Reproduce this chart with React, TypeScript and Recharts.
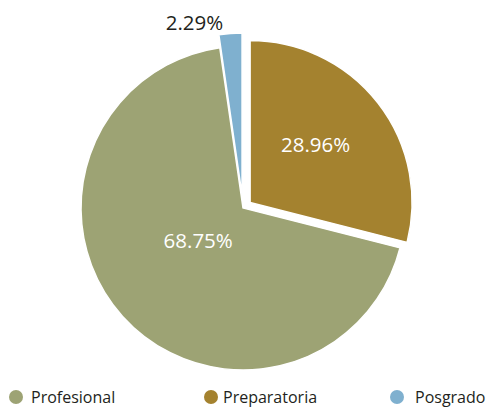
import { PieChart, Pie, Cell, Sector } from 'recharts'

const categories = ['Preparatoria', 'Profesional', 'Posgrado']
const shares = [28.96, 68.75, 2.29]
const legendOrder = ['Profesional', 'Preparatoria', 'Posgrado']

const COLORS: Record<string, string> = {
  Profesional: '#9DA374',
  Preparatoria: '#A4822F',
  Posgrado: '#7FB0CF',
}

// how far each slice is pulled out of the center
const EXPLODE: Record<string, number> = {
  Profesional: 0,
  Preparatoria: 9,
  Posgrado: 13,
}

// label placement: distance from the (exploded) center and angle nudge
const LABEL_POS: Record<string, { r: number; da: number; color: string }> = {
  Profesional: { r: 55, da: -6.6, color: '#FFFFFF' },
  Preparatoria: { r: 88, da: 4, color: '#FFFFFF' },
  Posgrado: { r: 179, da: 11.3, color: '#231F20' },
}

const data = categories.map((name, i) => ({ name, value: shares[i] }))

const RAD = Math.PI / 180
const FONT = '"Open Sans", sans-serif'

function shift(name: string, midAngle: number) {
  const d = EXPLODE[name] ?? 0
  return { dx: d * Math.cos(-midAngle * RAD), dy: d * Math.sin(-midAngle * RAD) }
}

function renderSlice(props: any) {
  const name = props.name ?? props.payload?.name
  const { dx, dy } = shift(name, props.midAngle)
  return <Sector {...props} cx={props.cx + dx} cy={props.cy + dy} />
}

function renderLabel(props: any) {
  const { cx, cy, midAngle, value } = props
  const name = props.name ?? props.payload?.name
  const pos = LABEL_POS[name]
  const { dx, dy } = shift(name, midAngle)
  const a = (midAngle + pos.da) * RAD
  const x = cx + dx + pos.r * Math.cos(-a)
  const y = cy + dy + pos.r * Math.sin(-a)
  return (
    <text
      x={x}
      y={y}
      fill={pos.color}
      textAnchor="middle"
      dominantBaseline="central"
      fontFamily={FONT}
      fontSize={20.5}
    >
      {`${Number(value).toFixed(2)}%`}
    </text>
  )
}

const LEGEND_X = [16, 211, 397]
const LEGEND_GAP = [8, 5, 11]

export default function App() {
  return (
    <div
      style={{
        position: 'absolute',
        left: 0,
        top: 0,
        width: 488,
        height: 409,
        background: '#fff',
        fontFamily: FONT,
      }}
    >
      <PieChart width={488} height={409} margin={{ top: 0, right: 0, bottom: 0, left: 0 }}>
        <Pie
          data={data}
          dataKey="value"
          nameKey="name"
          cx={243}
          cy={208}
          outerRadius={162}
          startAngle={90}
          endAngle={-270}
          stroke="#fff"
          strokeWidth={1.5}
          label={renderLabel}
          labelLine={false}
          shape={renderSlice}
          isAnimationActive={false}
        >
          {data.map((d) => (
            <Cell key={d.name} fill={COLORS[d.name]} />
          ))}
        </Pie>
      </PieChart>
      {legendOrder.map((name, i) => (
        <div
          key={name}
          style={{
            position: 'absolute',
            left: LEGEND_X[i] - 7,
            top: 386,
            height: 22,
            display: 'flex',
            alignItems: 'center',
            fontSize: 16,
            color: '#231F20',
            whiteSpace: 'nowrap',
          }}
        >
          <span
            style={{
              display: 'inline-block',
              width: 14,
              height: 14,
              borderRadius: '50%',
              background: COLORS[name],
              marginRight: LEGEND_GAP[i],
            }}
          />
          {name}
        </div>
      ))}
    </div>
  )
}
